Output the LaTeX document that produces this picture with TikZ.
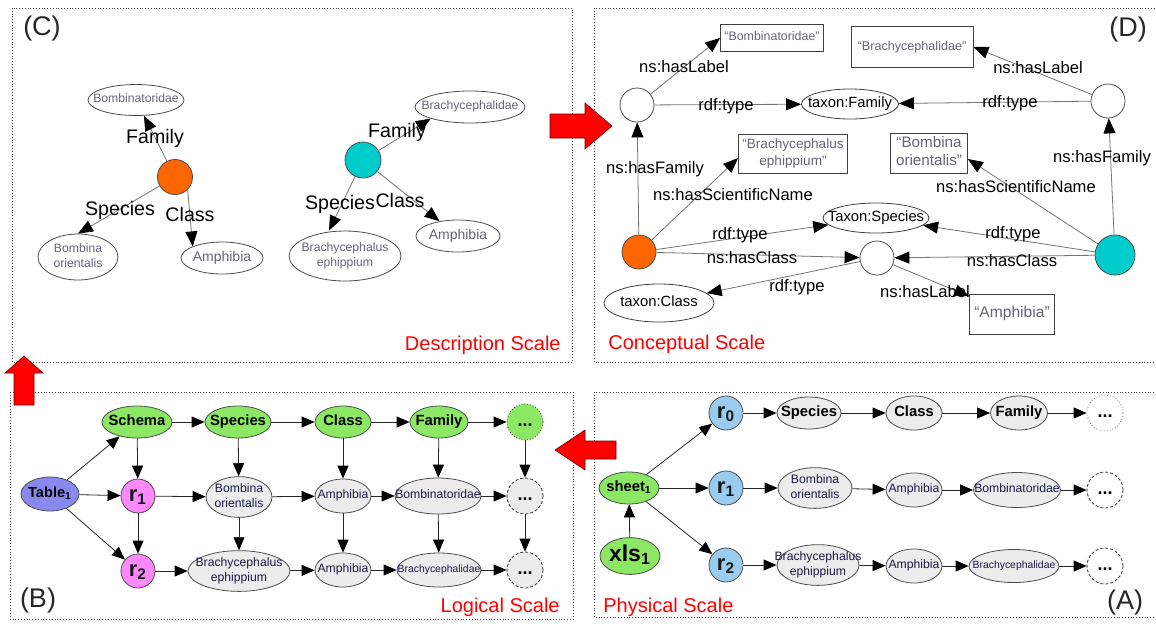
\documentclass[tikz,border=0pt]{standalone}
\usepackage{fontspec}
\setmainfont{Liberation Sans}
\usetikzlibrary{shapes.geometric,arrows.meta,positioning}

\definecolor{orangenode}{RGB}{255,102,0}
\definecolor{tealnode}{RGB}{0,204,204}
\definecolor{keygreen}{RGB}{140,232,100}
\definecolor{tablepurple}{RGB}{136,136,238}
\definecolor{rowpink}{RGB}{255,136,255}
\definecolor{rowblue}{RGB}{153,204,238}
\definecolor{valgray}{RGB}{236,236,236}
\definecolor{navytext}{RGB}{25,25,70}
\definecolor{littext}{RGB}{100,100,118}

% text of zero width, so the outline size is set by the node options only
\newcommand{\nm}[1]{\makebox[0pt]{\begin{tabular}{@{}c@{}}#1\end{tabular}}}
\newcommand{\fsz}[2]{\fontsize{#1}{#2}\selectfont}

\tikzset{
    >={Triangle[length=6.5pt,width=5.5pt,color=black]},
    sz/.style 2 args={minimum width=#1*0.5pt, minimum height=#2*0.5pt},
    dia/.style={minimum size=#1*0.5pt},
    panel/.style={draw=black!75, densely dotted, line width=0.4pt},
    panelname/.style={font=\fsz{13.5}{15}, text=black!85, inner sep=0pt},
    scalename/.style={font=\fsz{10}{12}, text=red, inner sep=0pt},
    redarrow/.style={fill=red, draw=red!45!black, line width=0.3pt},
    % description and conceptual scale
    descell/.style={ellipse, draw=black!70, inner sep=0pt, text=littext, font=\fsz{6.1}{7.4}},
    dot/.style={circle, draw=black!70, inner sep=0pt},
    litbox/.style={rectangle, draw=black!75, inner sep=0pt, text=littext},
    classell/.style={ellipse, draw=black!75, inner sep=0pt, font=\fsz{7.4}{9}},
    arcname/.style={font=\fsz{9.8}{12}, inner sep=0pt},
    relname/.style={font=\fsz{8.3}{10}, text=black, inner sep=0pt},
    descedge/.style={-{Triangle[length=7.5pt,width=6pt,color=black]}, draw=black!55, line width=0.4pt},
    % logical and physical scale
    keynode/.style={ellipse, draw=black!70, fill=keygreen, inner sep=0pt, font=\fsz{7.4}{9}\bfseries},
    valnode/.style={ellipse, draw=black!70, fill=valgray, inner sep=0pt, text=navytext, font=\fsz{6.1}{7.2}},
    rownode/.style={circle, draw=black!70, inner sep=0pt, dia=34, font=\fsz{11}{13}\bfseries, text=black!90},
    morenode/.style={circle, draw=black!80, dash pattern=on 1.5pt off 1pt, inner sep=0pt, dia=36, font=\fsz{9}{11}\bfseries},
    flow/.style={->, draw=black!85, line width=0.4pt},
}

\begin{document}
\begin{tikzpicture}[x=0.5pt, y=-0.5pt]
\useasboundingbox (0,0) rectangle (1156,623);

% the four panels
\draw[panel] (12,8) rectangle (572,362);
\draw[panel] (594,8) rectangle (1160,362);
\draw[panel] (10,392) rectangle (573,619);
\draw[panel] (594,392) rectangle (1160,617);

\node[panelname] (nameC) at (42,29) {(C)};
\node[panelname] (nameD) at (1128,30) {(D)};
\node[panelname] (nameB) at (38,600) {(B)};
\node[panelname] (nameA) at (1125,602) {(A)};
\node[scalename, anchor=east] (scaleC) at (561,345) {Description Scale};
\node[scalename, anchor=west] (scaleD) at (608,344) {Conceptual Scale};
\node[scalename, anchor=east] (scaleB) at (560,607) {Logical Scale};
\node[scalename, anchor=west] (scaleA) at (603,607) {Physical Scale};

% (C) description scale
\node[descell, sz={96}{31}] (cBomb) at (136,100) {\nm{Bombinatoridae}};
\node[dot, fill=orangenode, dia=35] (cOr) at (175,177) {};
\node[descell, sz={80}{46}] (cBo) at (78,257) {\nm{Bombina\\orientalis}};
\node[descell, sz={82}{32}, font=\fsz{7}{8}] (cAm) at (222,258) {\nm{Amphibia}};
\node[dot, fill=tealnode, dia=36] (cTe) at (363,160) {};
\node[descell, sz={110}{32}] (cBra) at (470,107) {\nm{Brachycephalidae}};
\node[descell, sz={112}{50}] (cBe) at (345,256) {\nm{Brachycephalus\\ephippium}};
\node[descell, sz={84}{32}, font=\fsz{7}{8}] (cAm2) at (458,236) {\nm{Amphibia}};

\draw[descedge] (cOr) -- (cBomb) node[arcname] at (155,138) {Family};
\draw[descedge] (cOr) -- (cBo.north) node[arcname] at (120,210) {Species};
\draw[descedge] (cOr.-45) -- (cAm.north west) node[arcname] at (190,214) {Class};
\draw[descedge] (cTe) -- (cBra.south west) node[arcname] at (397,132) {Family};
\draw[descedge] (cTe) -- ([xshift=-8pt]cBe.north) node[arcname] at (340,204) {Species};
\draw[descedge] (cTe) -- (cAm2) node[arcname] at (400,200) {Class};

% (D) conceptual scale
\node[dot, dia=34] (dL) at (637,105) {};
\node[litbox, sz={103}{27}, font=\fsz{6.2}{7.4}] (dBombBox) at (772,38) {\nm{“Bombinatoridae”}};
\node[classell, sz={97}{30}] (dFam) at (850,104) {\nm{taxon:Family}};
\node[litbox, sz={122}{41}, font=\fsz{6.3}{7.5}] (dBraBox) at (912,47) {\nm{“Brachycephalidae”}};
\node[dot, dia=34] (dR) at (1108,101) {};
\node[litbox, sz={77}{40}, font=\fsz{7.6}{9}] (dBoBox) at (929,153) {\nm{“Bombina\\orientalis”}};
\node[litbox, sz={109}{39}, font=\fsz{6.8}{8.4}] (dBeBox) at (793,154) {\nm{“Brachycephalus\\ephippium”}};
\node[dot, fill=orangenode, dia=34] (dOr) at (639,252) {};
\node[classell, sz={106}{30}] (dSp) at (876,218) {\nm{Taxon:Species}};
\node[dot, fill=tealnode, dia=40] (dTe) at (1115,255) {};
\node[dot, dia=34] (dM) at (877,258) {};
\node[classell, sz={110}{38}] (dCl) at (659,303) {\nm{taxon:Class}};
\node[litbox, sz={85}{40}, font=\fsz{7.8}{9}] (dAmBox) at (1012,314) {\nm{“Amphibia”}};

\draw[descedge] (dL) -- (dBombBox.west) node[relname] at (684,67) {ns:hasLabel};
\draw[descedge] (dL) -- (dFam) node[relname] at (726,106) {rdf:type};
\draw[descedge] (dR) -- (dBraBox.east) node[relname] at (1038,68) {ns:hasLabel};
\draw[descedge] (dR) -- (dFam) node[relname] at (1010,103) {rdf:type};
\draw[descedge] (dOr) -- (dL) node[relname] at (655,169) {ns:hasFamily};
\draw[descedge] (dOr) -- ([yshift=-2pt]dBeBox.west) node[relname] at (733,195) {ns:hasScientificName};
\draw[descedge] (dOr) -- (dSp) node[relname] at (740,235) {rdf:type};
\draw[descedge] (dOr) -- (dM) node[relname] at (752,258) {ns:hasClass};
\draw[descedge] (dTe) -- (dR) node[relname] at (1102,158) {ns:hasFamily};
\draw[descedge] (dTe) -- ([yshift=-3pt]dBoBox.east) node[relname] at (1016,187) {ns:hasScientificName};
\draw[descedge] (dTe) -- (dSp) node[relname] at (1013,234) {rdf:type};
\draw[descedge] (dTe) -- (dM) node[relname] at (1012,261) {ns:hasClass};
\draw[descedge] (dM) -- (dCl) node[relname] at (797,287) {rdf:type};
\draw[descedge] (dM) -- (dAmBox) node[relname] at (925,292) {ns:hasLabel};

% (B) logical scale
\node[keynode, sz={70}{32}] (bSch) at (137,422) {\nm{Schema}};
\node[keynode, sz={66}{32}] (bSp) at (238,422) {\nm{Species}};
\node[keynode, sz={56}{32}] (bCl) at (343,422) {\nm{Class}};
\node[keynode, sz={58}{32}] (bFa) at (439,422) {\nm{Family}};
\node[morenode, fill=keygreen, densely dotted] (bMo1) at (525,422) {\nm{...}};
\node[keynode, fill=tablepurple, sz={58}{34}, font=\fsz{7.3}{9}\bfseries] (bTab) at (50,494) {\nm{Table\textsubscript{1}}};
\node[rownode, fill=rowpink] (bR1) at (138,496) {\nm{r\textsubscript{1}}};
\node[rownode, fill=rowpink] (bR2) at (138,571) {\nm{r\textsubscript{2}}};
\node[valnode, sz={66}{32}] (bBo) at (239,497) {\nm{Bombina\\orientalis}};
\node[valnode, sz={102}{30}] (bBe) at (239,571) {\nm{Brachycephalus\\ephippium}};
\node[valnode, sz={56}{34}] (bAm1) at (343,496) {\nm{Amphibia}};
\node[valnode, sz={86}{36}] (bBf) at (438,496) {\nm{Bombinatoridae}};
\node[morenode, fill=valgray] (bMo2) at (525,496) {\nm{...}};
\node[valnode, sz={56}{34}] (bAm2) at (343,570) {\nm{Amphibia}};
\node[valnode, sz={84}{34}, font=\fsz{5.2}{6}] (bBh) at (439,570) {\nm{Brachycephalidae}};
\node[morenode, fill=valgray] (bMo3) at (525,570) {\nm{...}};

\foreach \a/\b in {bSch/bSp, bSp/bCl, bCl/bFa, bFa/bMo1,
                   bR1/bBo, bBo/bAm1, bAm1/bBf, bBf/bMo2,
                   bR2/bBe, bBe/bAm2, bAm2/bBh, bBh/bMo3,
                   bTab/bSch, bTab/bR1, bTab/bR2, bSch/bR1, bR1/bR2,
                   bSp/bBo, bBo/bBe, bCl/bAm1, bAm1/bAm2,
                   bFa/bBf, bBf/bBh, bMo1/bMo2, bMo2/bMo3}
    \draw[flow] (\a) -- (\b);

% (A) physical scale
\node[keynode, sz={60}{32}] (aSh) at (629,488) {\nm{sheet\textsubscript{1}}};
\node[keynode, sz={60}{34}, font=\fsz{11.5}{13}\bfseries] (aXl) at (630,556) {\nm{xls\textsubscript{1}}};
\node[rownode, fill=rowblue] (aR0) at (726,413) {\nm{r\textsubscript{0}}};
\node[rownode, fill=rowblue] (aR1) at (726,488) {\nm{r\textsubscript{1}}};
\node[rownode, fill=rowblue] (aR2) at (726,565) {\nm{r\textsubscript{2}}};
\node[keynode, fill=valgray, sz={64}{32}] (aSp) at (809,413) {\nm{Species}};
\node[valnode, sz={74}{32}] (aBo) at (815,488) {\nm{Bombina\\orientalis}};
\node[valnode, sz={82}{32}] (aBe) at (818,565) {\nm{Brachycephalus\\ephippium}};
\node[keynode, fill=valgray, sz={56}{34}] (aCl) at (914,413) {\nm{Class}};
\node[keynode, fill=valgray, sz={57}{34}] (aFa) at (1019,413) {\nm{Family}};
\node[morenode, fill=white, draw=black!55, densely dotted] (aMo1) at (1105,413) {\nm{...}};
\node[valnode, sz={56}{34}] (aAm1) at (914,490) {\nm{Amphibia}};
\node[valnode, sz={87}{35}] (aBf) at (1017,490) {\nm{Bombinatoridae}};
\node[morenode, fill=white] (aMo2) at (1105,490) {\nm{...}};
\node[valnode, sz={56}{34}] (aAm2) at (914,566) {\nm{Amphibia}};
\node[valnode, sz={90}{33}, font=\fsz{5.2}{6}] (aBh) at (1014,566) {\nm{Brachycephalidae}};
\node[morenode, fill=white] (aMo3) at (1105,566) {\nm{...}};

\foreach \a/\b in {aXl/aSh, aSh/aR0, aSh/aR1, aSh/aR2,
                   aR0/aSp, aSp/aCl, aCl/aFa, aFa/aMo1,
                   aR1/aBo, aBo/aAm1, aAm1/aBf, aBf/aMo2,
                   aR2/aBe, aBe/aAm2, aAm2/aBh, aBh/aMo3}
    \draw[flow] (\a) -- (\b);

% red arrows between the scales
\draw[redarrow] (550,114) -- (585,114) -- (585,103) -- (612,126) -- (585,149) -- (585,138) -- (550,138) -- cycle;
\draw[redarrow] (14,405) -- (14,373) -- (5,373) -- (24,356) -- (43,373) -- (34,373) -- (34,405) -- cycle;
\draw[redarrow] (616,441) -- (585,441) -- (585,430) -- (555,450) -- (585,470) -- (585,459) -- (616,459) -- cycle;
\end{tikzpicture}
\end{document}
